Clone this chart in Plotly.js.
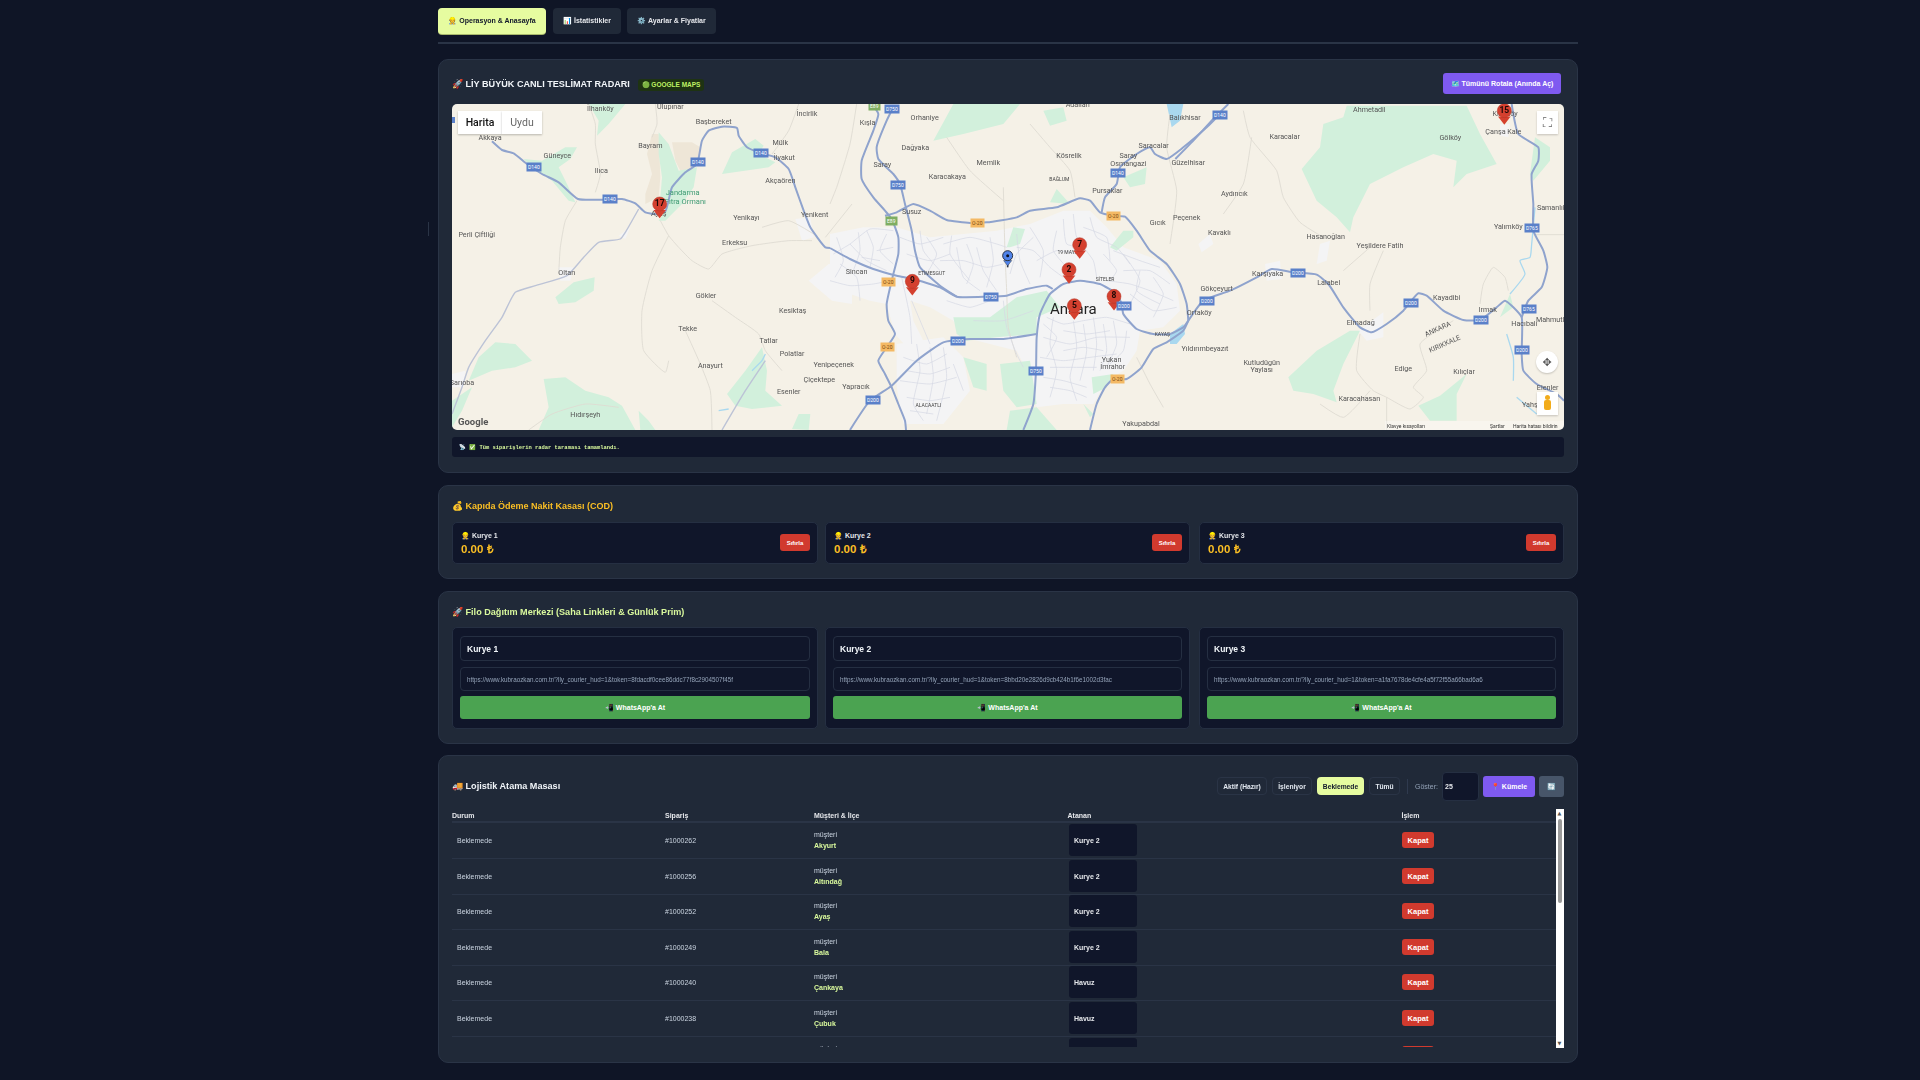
<!DOCTYPE html>
<html lang="tr">
<head>
<meta charset="utf-8">
<title>Lojistik Paneli</title>
<script src="https://cdn.plot.ly/plotly-3.0.1.min.js"></script>
<style>
html,body{margin:0;padding:0;background:#0f1526;width:1920px;height:1080px;overflow:hidden}
#page{position:absolute;left:0;top:0;width:1920px;height:1080px;font-family:"Liberation Sans",Arial,sans-serif;filter:blur(.4px)}
.a{position:absolute;box-sizing:border-box}
.c{display:flex;align-items:center;justify-content:center;white-space:nowrap}
.t{position:absolute;white-space:nowrap;transform:translateY(-50%);line-height:1}
#map{position:absolute;left:452px;top:104px;width:1112px;height:326px}
</style>
</head>
<body>
<div id="page"><div id="mapwrap" class="a" style="left:452px;top:104px;width:1112px;height:326px;border-radius:5px;overflow:hidden;z-index:2"><div id="map" style="left:0;top:0"></div></div></div>
<script>
/* ---------- dashboard content ---------- */
const tabLabels = ["👷 Operasyon & Anasayfa", "📊 İstatistikler", "⚙️ Ayarlar & Fiyatlar"];
const radarTitle = "🚀 LİY BÜYÜK CANLI TESLİMAT RADARI";
const badgeText = "🟢 GOOGLE MAPS";
const routeButton = "🗺️ Tümünü Rotala (Anında Aç)";
const radarLog = "📡 ✅ Tüm siparişlerin radar taraması tamamlandı.";
const codTitle = "💰 Kapıda Ödeme Nakit Kasası (COD)";
const fleetTitle = "🚀 Filo Dağıtım Merkezi (Saha Linkleri & Günlük Prim)";
const deskTitle = "🚚 Lojistik Atama Masası";
const courierNames = ["Kurye 1", "Kurye 2", "Kurye 3"];
const courierCash = ["0.00 ₺", "0.00 ₺", "0.00 ₺"];
const courierLinks = [
  "https://www.kubraozkan.com.tr/?lly_courier_hud=1&token=8fdacdf0cee86ddc77f8c2904507f45f",
  "https://www.kubraozkan.com.tr/?lly_courier_hud=1&token=8bbd20e2826d9cb424b1f6e1002d3fac",
  "https://www.kubraozkan.com.tr/?lly_courier_hud=1&token=a1fa7678de4cfe4a5f72f55a66bad6a6"];
const filterLabels = ["Aktif (Hazır)", "İşleniyor", "Beklemede", "Tümü"];
const tableHeaders = ["Durum", "Sipariş", "Müşteri & İlçe", "Atanan", "İşlem"];
const orderStatus = ["Beklemede","Beklemede","Beklemede","Beklemede","Beklemede","Beklemede","Beklemede"];
const orderIds = ["#1000262","#1000256","#1000252","#1000249","#1000240","#1000238","#1000235"];
const orderCustomers = ["müşteri","müşteri","müşteri","müşteri","müşteri","müşteri","müşteri"];
const orderDistricts = ["Akyurt","Altındağ","Ayaş","Bala","Çankaya","Çubuk","Elmadağ"];
const orderAssignees = ["Kurye 2","Kurye 2","Kurye 2","Kurye 2","Havuz","Havuz","Havuz"];

/* ---------- map data: three reading panels, x shifted by panel offset ---------- */
const centerShift = 1134, eastShift = 2154;
const westHighways = [
 [[120,112],[150,138],[185,148],[225,180],[270,210],[320,235],[378,285],[450,287],[510,285],[550,298],[580,325],[610,330],[640,322],[660,250],[700,205],[735,180],[750,110],[770,80],[810,68],[855,72],[860,95],[885,130],[925,147],[970,160],[1010,195],[1030,250],[1055,320],[1075,370],[1120,430],[1134,432]]];
const centerHighways = [
 [[0,432],[60,465],[130,495],[200,515],[250,525],[330,550],[380,578],[470,578],[530,575],[590,555],[650,545],[668,555]],
 [[130,5],[145,30],[130,80],[95,170],[95,225],[130,280],[165,320],[185,345],[205,400],[205,450],[190,510],[170,600],[175,650],[195,690],[170,730],[145,770],[165,810],[185,850],[205,900],[225,950],[228,978]],
 [[190,10],[170,50],[140,130],[145,165],[190,210],[210,240],[225,300],[245,380],[255,440],[270,490],[330,545],[380,578]],
 [[165,335],[200,325],[250,300],[300,320],[350,348],[420,357],[470,355],[560,340],[600,320],[680,310],[750,283],[780,290],[810,325],[850,335],[885,338],[920,380],[960,440],[1010,480],[1050,540],[1070,600],[1075,650]],
 [[1075,650],[1060,680],[1010,715],[970,735],[935,790],[890,825],[850,825],[825,850],[800,900],[780,978]],
 [[60,978],[120,890],[185,845],[260,770],[340,715],[420,705],[520,705],[620,690]],
 [[580,978],[610,900],[618,800],[620,700],[630,630],[660,570],[700,540],[750,530],[810,540],[860,570],[875,600],[880,630],[920,675],[970,690],[1020,690],[1060,670],[1075,650]],
 [[1170,30],[1130,70],[1060,130],[1010,165],[975,150],[960,130],[920,150],[870,190],[860,240],[825,280],[815,325]]];
const eastHighways = [
 [[55,650],[100,590],[180,560],[260,520],[305,495],[370,505],[440,512],[475,540],[520,610],[570,670],[605,685],[650,660],[700,620],[745,568],[770,575],[820,620],[880,648],[930,648],[980,610],[1005,590],[1030,610],[1055,640],[1055,750],[1060,800],[1100,840],[1160,870],[1182,890]],
 [[1025,0],[1045,90],[1105,130],[1105,170],[1085,210],[1090,300],[1090,380],[1120,440],[1132,490],[1115,550],[1075,590],[1055,640]],
 [[175,0],[130,45],[70,110],[16,165]]];
const westSecondary = [
 [[560,315],[520,385],[505,405],[440,415],[395,460],[345,515],[250,545],[190,565],[150,640],[100,710],[50,790],[30,850],[0,930]],
 [[940,770],[880,860],[810,978]]];
const westMinor = [
 [[375,290],[340,350],[325,430],[320,510]],
 [[410,0],[430,60],[430,120],[445,210],[430,265]],
 [[625,350],[650,395],[680,430],[720,470],[770,495],[810,450],[900,425],[1010,410],[1080,410]],
 [[650,395],[600,500],[570,620],[575,740],[640,805],[650,770]],
 [[780,590],[850,640],[920,690],[940,740],[990,800]],
 [[700,680],[745,780],[775,860],[780,978]],
 [[1200,300],[1120,400]],[[1085,390],[1010,350],[930,370]],[[1040,0],[1010,80],[960,150]],[[610,0],[615,60],[600,100]],[[230,978],[300,930],[400,900],[500,910]]];
const centerMinor = [
 [[520,250],[525,450],[530,560],[535,670],[560,760]],[[600,60],[660,130],[720,200],[735,280]],[[350,100],[420,200],[520,290]],[[80,0],[60,120],[20,250],[0,300]],[[1020,30],[1010,130],[1040,260],[1020,420]],[[920,760],[960,840],[1000,910]]];
const eastMinor = [
 [[220,20],[240,100],[320,200],[340,280],[390,355],[460,400]],[[160,330],[220,240],[245,100]],[[600,430],[520,500]],[[640,440],[600,540],[600,620]],[[570,690],[560,800],[610,860],[650,880],[720,915],[760,880],[730,850],[770,800],[750,720],[850,650]],[[650,880],[650,978]],[[930,600],[940,540],[970,490],[1005,520],[1015,560]],[[450,900],[520,940],[600,860]],[[1095,392],[1182,392]]];
const cityStreets = [
 [[10,450],[60,420],[120,375],[190,380]],[[60,420],[110,470],[170,500]],[[110,380],[130,430],[120,490]],[[170,390],[150,440],[190,480]],[[0,530],[60,545],[130,540],[180,530]],[[30,480],[80,520],[90,590]],
 [[290,400],[320,450],[290,510]],[[340,420],[420,400],[500,420],[530,430]],[[330,470],[400,470],[470,490],[520,480]],[[380,430],[400,520],[450,560]],[[440,430],[460,500],[500,560]],[[560,430],[610,440],[660,490],[700,520]],[[600,370],[640,440],[630,520]],[[680,380],[670,440],[720,500]],[[730,330],[740,400],[790,470],[800,520]],[[780,340],[800,400],[860,430],[900,480]],[[850,440],[930,470],[990,490]],[[880,500],[960,500],[1020,540]],[[830,530],[900,540],[960,560],[1030,590]],[[900,570],[970,620],[1040,610]],
 [[650,640],[700,660],[760,650],[830,640],[900,660]],[[640,700],[720,720],[800,700],[900,700]],[[630,760],[700,770],[780,760],[860,750]],[[640,820],[700,830],[770,850]],[[670,640],[660,720],[680,800],[660,880]],[[730,650],[740,730],[720,820],[740,890]],[[790,640],[800,720],[790,800]],[[850,650],[860,720],[830,790]],
 [[220,760],[290,780],[350,750]],[[210,830],[300,840],[380,820]],[[260,720],[270,800],[250,900],[280,950]],[[340,730],[350,820],[320,950]],[[370,780],[400,860]],
 [[520,590],[530,670],[560,750],[580,790]],[[430,650],[520,650],[610,620]],[[245,590],[300,720]],[[215,520],[240,640],[245,720]],[[350,590],[420,610],[480,590]],
 [[20,400],[40,470],[15,520]],[[85,385],[90,440],[70,500]],[[140,440],[190,430]],[[95,460],[150,470]],[[210,400],[270,420],[340,400]],[[230,450],[300,470],[360,450]],[[270,380],[280,440],[330,500]],[[365,395],[360,450],[420,530]],[[410,420],[430,480],[410,540]],[[480,400],[490,470],[470,550]],[[560,390],[570,470],[600,540]],[[610,400],[560,450],[540,510]],[[620,470],[680,440],[740,450]],[[700,345],[710,420],[760,430]],[[760,370],[830,400],[840,470]],[[820,450],[860,500],[840,530]],[[930,500],[920,560],[990,600]],[[880,450],[930,530],[900,600]],[[970,520],[1000,570],[970,640]],
 [[640,660],[680,700],[650,760]],[[700,680],[770,690],[840,680]],[[700,740],[760,730],[820,740]],[[660,790],[730,790],[800,790]],[[760,660],[770,740],[750,830]],[[820,660],[830,740],[810,800]],[[890,680],[880,740],[840,780]],[[660,850],[720,860],[770,880]],
 [[230,800],[300,810],[360,790]],[[230,880],[300,890],[360,880]],[[300,730],[310,820],[290,930]],[[240,920],[310,930]]];
const cityAreas = [
 [[0,390],[100,370],[200,370],[300,400],[400,390],[500,380],[600,360],[700,320],[780,320],[830,370],[880,430],[990,470],[1040,540],[1050,620],[1000,670],[930,680],[920,740],[880,800],[830,830],[790,900],[700,900],[620,910],[600,820],[560,740],[480,720],[400,700],[370,650],[300,610],[240,590],[250,650],[300,750],[240,740],[195,690],[170,600],[120,590],[60,570],[0,540]],
 [[200,720],[340,700],[400,760],[420,860],[340,960],[220,960],[200,850]]];
const westTowns = [[[1030,345],[1075,340],[1085,400],[1050,410]],[[1070,530],[1130,480],[1200,470],[1200,600],[1140,590]],[[318,490],[365,490],[355,530],[325,530]],[[500,395],[535,370],[520,405]],[[0,810],[40,800],[35,850],[0,850]]];
const eastTowns = [[[285,480],[330,470],[335,525],[290,530]],[[450,420],[480,410],[470,470],[440,480]],[[85,420],[120,390],[130,420],[95,445]],[[565,680],[640,625],[640,700],[590,710]],[[990,60],[1020,60],[1015,100],[990,95]]];
const westTan = [[[600,90],[585,150],[600,210],[580,270],[580,300],[620,280],[625,220],[620,90]],[[660,115],[720,115],[745,130],[735,180],[690,210],[670,170]]];
const westParks = [
 [[620,85],[650,120],[680,200],[735,190],[725,250],[690,300],[640,350],[620,350],[640,320],[625,280],[630,220],[620,150]],
 [[840,145],[910,105],[935,125],[920,150],[970,175],[950,190],[810,210]],
 [[215,165],[270,170],[340,130],[375,130],[355,165],[320,190],[345,240],[370,295],[350,290],[300,230],[250,200]],
 [[410,0],[520,0],[470,60],[435,95],[440,50]],
 [[310,580],[365,535],[428,520],[425,560],[370,595],[320,600]],
 [[80,760],[130,715],[190,720],[240,770],[190,790],[120,800],[50,830]],
 [[275,825],[340,820],[400,860],[470,880],[510,905],[550,978],[260,978],[290,910]],
 [[560,920],[590,950],[610,978],[565,978]],
 [[825,870],[880,800],[930,730],[945,800],[940,860],[990,905],[900,915],[850,905]],
 [[0,890],[60,850],[30,920],[0,970]],
 [[1020,975],[1040,930],[1075,930],[1070,978]]];
const centerParks = [
 [[310,110],[370,0],[570,0],[520,60],[400,90]],[[640,20],[700,10],[710,50],[660,65]],[[680,255],[720,300],[660,295]],[[530,430],[550,370],[585,375],[570,420],[540,430]],[[840,430],[880,380],[910,380],[910,400],[860,440]],[[880,220],[950,190],[945,240],[900,250]],
 [[370,640],[480,640],[560,580],[650,560],[690,610],[620,640],[620,690],[500,700],[410,710],[380,690]],[[510,780],[600,770],[620,900],[560,910],[520,860]],[[400,760],[470,780],[470,860],[430,850]],[[540,920],[620,910],[680,978],[530,978]],[[785,820],[850,810],[830,850],[790,870]],[[760,900],[790,930],[780,940]]];
const eastParks = [
 [[395,195],[450,130],[460,60],[520,40],[530,5],[890,5],[930,90],[980,180],[890,210],[850,250],[860,170],[790,150],[700,190],[600,240],[550,340],[540,385],[500,340],[440,290]],
 [[1095,100],[1140,130],[1140,170],[1090,230],[1080,210]],
 [[355,820],[440,740],[540,680],[570,680],[520,780],[490,860],[500,895],[430,870],[370,860]],
 [[745,905],[810,875],[890,810],[860,870],[860,950],[780,950]],
 [[990,640],[1020,570],[1030,610]]];
const centerWater = [[[1010,0],[1060,0],[1050,50],[1025,70]],[[1020,690],[1060,660],[1065,690],[1040,720],[1020,720]]];
const eastRivers = [[[1095,310],[1085,420],[1080,460],[1050,470],[1065,510],[1020,570]],[[1010,690],[1030,760],[1030,830]],[[1040,880],[1100,930]]];
const westRivers = [[[940,750],[930,770],[900,800]],[[830,915],[800,920]]];

const westPlaces = ["İlhanköy","Ulupınar","Başbereket","İncirlik","Mülk","Bayram","İlyakut","Güneyce","Ilıca","Akçaören","Akkaya","Ayaş","Yenikayı","Yenikent","Perli Çiftliği","Erkeksu","Oltan","Gökler","Kesiktaş","Tekke","Tatlar","Polatlar","Yenipeçenek","Çiçektepe","Anayurt","Esenler","Sarıoba","Hıdırşeyh"];
const westPlaceX = [445,655,785,1065,985,595,997,316,448,985,114,620,883,1088,74,848,344,762,1022,707,950,1020,1145,1102,775,1010,30,400];
const westPlaceY = [17,10,55,32,117,127,162,157,202,233,102,330,342,333,393,417,508,576,621,676,711,750,785,828,788,864,837,933];
const centerPlaces = ["Kışla","Orhaniye","Dağyaka","Saray","Memlik","Karacakaya","Kösrelik","Saray","Osmangazi","Pursaklar","Saracalar","Balıkhisar","Güzelhisar","Adalıan","Susuz","Sincan","Gıcık","Peçenek","Ortaköy","Yukarı","İmrahor","Yakupabdal","Yapracık"];
const centerPlaceX = [113,284,256,157,475,352,717,895,895,832,971,1065,1075,743,245,80,983,1070,1108,845,848,933,78];
const centerPlaceY = [57,42,132,185,177,220,157,158,180,263,127,42,179,3,326,505,357,344,627,770,790,960,850];
const eastPlaces = ["Kavaklı","Aydıncık","Gökçeyurt","Yıldırımbeyazıt","Ahmetadil","Karacalar","Gölköy","Çanşa Kale","Kırıkköy","Samanlık","Yalımköy","Hasanoğlan","Yeşildere Fatih","Karşıyaka","Lalabel","Elmadağ","Kayadibi","Irmak","Hacıbalı","Mahmutlar","Edige","Kılıçlar","Kutludügün","Yaylası","Karacahasan","Elenler","Yahşihan"];
const eastPlaceX = [148,193,140,105,598,344,841,1000,1005,1145,1015,467,630,293,476,572,830,953,1063,1150,700,882,275,275,568,1133,1100];
const eastPlaceY = [387,271,557,735,20,100,104,85,32,314,369,400,427,510,537,658,584,618,660,650,795,804,778,800,885,853,903];
const districtNames = ["BAĞLUM","ETİMESGUT","19 MAYIS","SİTELER","KAYAŞ","ALACAATLI"];
const districtX = [688,305,715,825,997,295];
const districtY = [226,510,445,528,692,905];
const forestNames = ["Jandarma","Fıtra Ormanı"];
const forestX = [692,700];
const forestY = [268,294];
const cityName = ["Ankara"], cityX = [730], cityY = [620];
const provinceNames = ["ANKARA","KIRIKKALE"], provinceX = [805,825], provinceY = [675,720];

const blueShieldText = ["D140","D140","D140","D140","D140","D140","D750","D750","D750","D750","D200","D200","D200","D200","D200","D200","D200","D200","D765","D765"];
const blueShieldX = [245,473,738,927,1999,2304,1321,1339,1616,1751,2016,1519,1264,2264,2539,2876,3087,3209,3239,3231];
const blueShieldY = [188,286,173,148,208,32,14,242,578,800,607,712,887,590,507,597,648,738,372,615];
const greenShieldText = ["E89","E89"], greenShieldX = [1267,1319], greenShieldY = [5,350];
const orangeShieldText = ["O-20","O-20","O-20","O-20","O-20"];
const orangeShieldX = [1577,1984,1309,1306,1997], orangeShieldY = [357,336,534,728,825];

const pinLabels = ["17","15","7","2","9","5","8"];
const pinX = [623,3157,1883,1851,1381,1867,1986];
const pinHeadY = [300,20,422,497,532,605,577];
const pinTailY = [326,46,448,523,558,631,603];
const basePinX = [1667], basePinY = [455], baseTailY = [475];
const edgeMarkX = [0], edgeMarkY = [48];

/* ---------- helpers ---------- */
const page = document.getElementById('page');
function box(x0,y0,x1,y1,css,html){const d=document.createElement('div');d.className='a c';d.style.cssText=`left:${x0}px;top:${y0}px;width:${x1-x0}px;height:${y1-y0}px;${css||''}`;if(html!==undefined)d.textContent=html;(box.parent||page).appendChild(d);return d;}
function txt(x,yc,s,css){const d=document.createElement('div');d.className='t';d.style.cssText=`left:${x}px;top:${yc}px;${css||''}`;d.textContent=s;(box.parent||page).appendChild(d);return d;}
const panelCss='background:#202938;border:1px solid #2a3446;border-radius:10px;';
const cardCss='background:#10162a;border:1px solid #252f42;border-radius:5px;';
const inputCss='background:#10162a;border:1px solid #252f42;border-radius:4px;';

/* tabs */
const tabX=[[438,546],[553,621],[627,716]];
tabLabels.forEach((s,i)=>box(tabX[i][0],8,tabX[i][1],34,(i==0?'background:#e6fca0;color:#10162a;box-shadow:0 1px 0 #a8b86c;':'background:#202938;color:#e5e7eb;')+'border-radius:4px;font:bold 7px "Liberation Sans";',s));
box(438,42,1578,44,'background:#2a3446');
box(428,222,429,236,'background:#2a3446');

/* panels */
box(438,59,1578,473,panelCss);
box(438,485,1578,579,panelCss);
box(438,591,1578,744,panelCss);
box(438,755,1578,1063,panelCss);

/* radar header */
txt(452,84,radarTitle,'font:bold 9.1px "Liberation Sans";color:#f1f5f9');
box(638,79,704,91,'background:#1e3312;border-radius:3px;color:#bef264;font:bold 6.5px "Liberation Sans";',badgeText);
box(1443,73,1561,94,'background:#7f5af0;border-radius:3px;color:#fff;font:bold 7px "Liberation Sans";',routeButton);
box(452,437,1564,457,'background:#10162a;border-radius:3px');
txt(459,447,radarLog,'font:bold 5.45px "Liberation Mono",monospace;color:#d9f99d');

/* COD and fleet */
txt(452,506,codTitle,'font:bold 9px "Liberation Sans";color:#fbbf24');
txt(452,612,fleetTitle,'font:bold 9.1px "Liberation Sans";color:#d9f99d');
const cardX=[[452,818],[825,1190],[1199,1564]];
cardX.forEach((c,i)=>{
  box(c[0],522,c[1],564,cardCss);
  txt(c[0]+9,536,'👷 '+courierNames[i],'font:bold 7px "Liberation Sans";color:#e5e7eb');
  txt(c[0]+9,547.5,courierCash[i],'font:bold 11.5px "Liberation Sans";color:#fbbf24');
  box(c[1]-38,534,c[1]-8,551,'background:#d13a2e;border-radius:3px;color:#fff;font:bold 6px "Liberation Sans";','Sıfırla');
  box(c[0],627,c[1],729,cardCss);
  box(c[0]+8,636,c[1]-8,661,inputCss);
  txt(c[0]+15,648.5,courierNames[i],'font:bold 8.5px "Liberation Sans";color:#f1f5f9');
  box(c[0]+8,667,c[1]-8,691,inputCss);
  txt(c[0]+15,678.5,courierLinks[i],'font:6.3px "Liberation Sans";color:#94a3b8');
  box(c[0]+8,696,c[1]-8,719,'background:#4ba351;border-radius:3px;color:#fff;font:bold 7px "Liberation Sans";',"📲 WhatsApp'a At");
});

/* desk */
txt(452,786,deskTitle,'font:bold 9.1px "Liberation Sans";color:#f1f5f9');
const filterX=[[1217,1267],[1272,1312],[1317,1364],[1369,1400]];
filterLabels.forEach((s,i)=>box(filterX[i][0],777,filterX[i][1],795,(i==2?'background:#e6fca0;color:#10162a;':'background:transparent;border:1px solid #2a3446;color:#e2e8f0;')+'border-radius:4px;font:bold 6.7px "Liberation Sans";',s));
box(1407,779,1408,794,'background:#2f3a4e');
txt(1415,786,'Göster:','font:7px "Liberation Sans";color:#94a3b8');
box(1442,772,1479,801,inputCss);
txt(1445,786,'25','font:bold 7px "Liberation Sans";color:#e5e7eb');
box(1483,776,1535,797,'background:#7f5af0;border-radius:3px;color:#fff;font:bold 7px "Liberation Sans";','📍 Kümele');
box(1539,776,1564,797,'background:#475569;border-radius:3px;color:#fff;font:7px "Liberation Sans";','🔄');
const headerX=[452,665,814,1067.5,1401.5];
tableHeaders.forEach((s,i)=>txt(headerX[i],815,s,'font:bold 7px "Liberation Sans";color:#e5e7eb'));
box(452,821,1556,823,'background:#2a3446');
/* clipped rows */
const clip=box(452,823,1556,1047,'overflow:hidden;display:block');
box.parent=clip;
orderIds.forEach((id,i)=>{
  const yc=[17,53,88,124,159,195,231][i];
  if(i<6) box(0,yc+17.5,1104,yc+18.5,'background:#2a3446');
  txt(5,yc-.5,orderStatus[i],'font:7px "Liberation Sans";color:#cbd5e1');
  txt(213,yc-.5,id,'font:7px "Liberation Sans";color:#cbd5e1');
  txt(362,yc-5.9,orderCustomers[i],'font:7px "Liberation Sans";color:#cbd5e1');
  txt(362,yc+4.9,orderDistricts[i],'font:bold 7px "Liberation Sans";color:#d9f99d');
  box(617,yc-16,685,yc+16,'background:#10162a;border-radius:3px');
  txt(622,yc-.5,orderAssignees[i],'font:bold 7px "Liberation Sans";color:#e5e7eb');
  box(950,yc-8,982,yc+8,'background:#d13a2e;border-radius:3px;color:#fff;font:bold 7.5px "Liberation Sans";','Kapat');
});
box.parent=null;
/* scrollbar */
box(1556,809,1564,1048,'background:#fff');
box(1558,819,1562,903,'background:#9a9a9a;border-radius:2px');
txt(1557.5,813,'▲','font:5px "DejaVu Sans";color:#555');
txt(1557.5,1043,'▼','font:5px "DejaVu Sans";color:#555');

/* map chrome */
const mapBox=document.getElementById('mapwrap');
box.parent=mapBox;
const mx=452,my=104;
box(458-mx,111-my,502-mx,134-my,'background:#fff;color:#111;font:500 10.5px Roboto;box-shadow:0 1px 2px rgba(0,0,0,.25)','Harita');
box(502-mx,111-my,542-mx,134-my,'background:#fff;color:#666;font:10.5px Roboto;box-shadow:0 1px 2px rgba(0,0,0,.25)','Uydu');
box(1537-mx,111-my,1558-mx,134-my,'background:#fff;color:#666;font:13px "DejaVu Sans";box-shadow:0 1px 2px rgba(0,0,0,.2)','⛶');
box(1536-mx,351-my,1558-mx,373-my,'background:#fff;border-radius:50%;color:#555;font:11px "DejaVu Sans";box-shadow:0 1px 2px rgba(0,0,0,.2)','✥');
box(1537-mx,392-my,1558-mx,415-my,'background:#fff;box-shadow:0 1px 2px rgba(0,0,0,.2)');
box(1545-mx,395-my,1550-mx,400-my,'background:#f2ac1b;border-radius:50%');
box(1544-mx,400-my,1551-mx,410-my,'background:#f2ac1b;border-radius:2px');
txt(458-mx,421-my,'Google','font:bold 9.5px Roboto;color:#555');
box(1385-mx,421-my,1564-mx,430-my,'background:rgba(255,255,255,.3)');
txt(1387-mx,425.5-my,'Klavye kısayolları','font:5px Roboto;color:#333');
txt(1490-mx,425.5-my,'Şartlar','font:5px Roboto;color:#333');
txt(1513-mx,425.5-my,'Harita hatası bildirin','font:5px Roboto;color:#333');
box.parent=null;

/* ---------- map through Plotly scales ---------- */
function lines(groups){const x=[],y=[];groups.forEach(([g,s])=>g.forEach(l=>{l.forEach(p=>{x.push(p[0]+s);y.push(p[1]);});x.push(null);y.push(null);}));return {x,y};}
function lineTrace(groups,color,width,dash){const d=lines(groups);return {type:'scatter',mode:'lines',x:d.x,y:d.y,hoverinfo:'skip',line:{color,width,dash:dash||'solid',shape:'spline',smoothing:.5},connectgaps:false};}
function area(groups,color){const d=lines(groups);return {type:'scatter',mode:'none',x:d.x,y:d.y,fill:'toself',fillcolor:color,hoverinfo:'skip'};}
function labels(t,x,y,s,size,color,fam){return {type:'scatter',mode:'text',text:t,x:x.map(v=>v+s),y,textposition:'middle center',textfont:{family:fam||'Roboto',size,color},hoverinfo:'skip'};}
const pins=[
  {type:'scatter',mode:'markers',x:edgeMarkX,y:edgeMarkY,marker:{symbol:'square',size:6,color:'#5a80c9'},hoverinfo:'skip'},
  {type:'scatter',mode:'markers',x:pinX,y:pinTailY,marker:{symbol:'triangle-down',size:11,color:'#d4402f',line:{width:0}},hoverinfo:'skip'},
  {type:'scatter',mode:'markers+text',x:pinX,y:pinHeadY,text:pinLabels,textposition:'middle center',textfont:{family:'Roboto',size:8.5,color:'#1c0806',weight:700},marker:{symbol:'circle',size:14,color:'#d4402f',line:{width:.5,color:'#b03325'}},hoverinfo:'skip'},
  {type:'scatter',mode:'lines',x:[basePinX[0],basePinX[0]],y:[basePinY[0],basePinY[0]+35],line:{color:'#2b3446',width:1.6},hoverinfo:'skip'},
  {type:'scatter',mode:'markers',x:basePinX,y:baseTailY,marker:{symbol:'triangle-down',size:7,color:'#5083ea',line:{width:.5,color:'#2b3446'}},hoverinfo:'skip'},
  {type:'scatter',mode:'markers',x:basePinX,y:basePinY,marker:{symbol:'circle',size:10,color:'#5083ea',line:{width:1,color:'#2b3446'}},hoverinfo:'skip'},
  {type:'scatter',mode:'markers',x:basePinX,y:basePinY,marker:{symbol:'circle',size:3,color:'#0d1220'},hoverinfo:'skip'}
];
const traces=[
  area([[cityAreas,centerShift],[westTowns,0],[eastTowns,eastShift]],'#f4f4f5'),
  area([[westTan,0]],'#eee6d7'),
  area([[westParks,0],[centerParks,centerShift],[eastParks,eastShift]],'#d2f0dc'),
  area([[centerWater,centerShift]],'#a9d8ef'),
  lineTrace([[eastRivers,eastShift],[westRivers,0]],'#a9d8ef',1.3),
  lineTrace([[westMinor,0],[centerMinor,centerShift],[eastMinor,eastShift]],'#dfdbd2',.9),
  lineTrace([[cityStreets,centerShift]],'#d5d9e4',.7),
  lineTrace([[westSecondary,0]],'#bcc3d6',1.4),
  lineTrace([[westHighways,0],[centerHighways,centerShift],[eastHighways,eastShift]],'#8fa3cd',2),
  labels(westPlaces,westPlaceX,westPlaceY,0,7.2,'#555555'),
  labels(centerPlaces,centerPlaceX,centerPlaceY,centerShift,7.2,'#555555'),
  labels(eastPlaces,eastPlaceX,eastPlaceY,eastShift,7.2,'#555555'),
  labels(districtNames,districtX,districtY,centerShift,5,'#444444'),
  labels(forestNames,forestX,forestY,0,7.5,'#3f9a73'),
  labels(cityName,cityX,cityY,centerShift,15,'#222222'),
  ...pins
];
function shields(t,x,y,bg,fg){return t.map((s,i)=>({xref:'x',yref:'y',x:x[i],y:y[i],text:s,showarrow:false,bgcolor:bg,borderpad:1,font:{family:'Roboto',size:5,color:fg},align:'center'}));}
const annotations=[
  ...shields(blueShieldText,blueShieldX,blueShieldY,'#5a80c9','#ffffff'),
  ...shields(greenShieldText,greenShieldX,greenShieldY,'#7fae62','#ffffff'),
  ...shields(orangeShieldText,orangeShieldX,orangeShieldY,'#f4b964','#7a4a10'),
  ...provinceNames.map((s,i)=>({xref:'x',yref:'y',x:provinceX[i]+eastShift,y:provinceY[i],text:s,showarrow:false,textangle:-24,font:{family:'Roboto',size:7,color:'#555555'}}))
];
Plotly.newPlot('map',traces,{
  width:1112,height:326,margin:{l:0,r:0,t:0,b:0},showlegend:false,
  paper_bgcolor:'#f5f1e7',plot_bgcolor:'#f5f1e7',
  xaxis:{range:[0,3336],visible:false,fixedrange:true},
  yaxis:{range:[978,0],visible:false,fixedrange:true},
  annotations
},{staticPlot:true,displayModeBar:false});
</script>
</body>
</html>
